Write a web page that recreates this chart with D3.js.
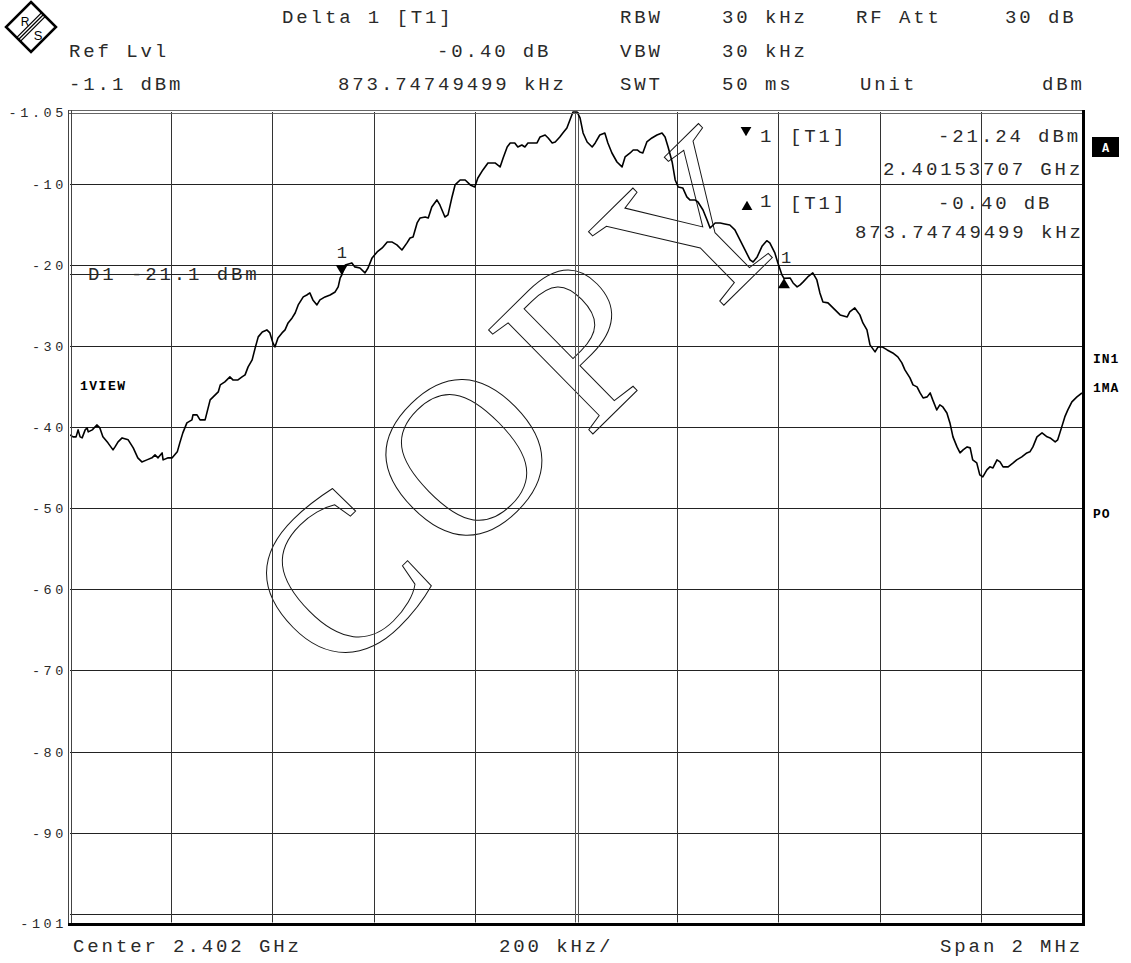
<!DOCTYPE html>
<html><head><meta charset="utf-8">
<script src="https://cdn.jsdelivr.net/npm/d3@7"></script>
<style>
html,body{margin:0;padding:0;background:#fff;}
svg{display:block;}
</style></head><body>
<svg id="chart" width="1131" height="963"></svg>
<script>
// ---- data (frequency offset from center 2.402 GHz in kHz, level in dBm) ----
const freqKHz = [-1000,-994,-988,-984,-980,-976,-970,-966,-964,-956,-947,-941,-935,-925,-915,-911,-905,-897,-885,-875,-866,-858,-848,-838,-832,-826,-818,-816,-806,-798,-788,-783,-777,-769,-759,-757,-749,-743,-733,-729,-723,-717,-707,-703,-694,-684,-678,-668,-660,-654,-648,-640,-634,-628,-620,-611,-605,-599,-595,-589,-581,-575,-569,-561,-555,-549,-539,-532,-526,-520,-512,-506,-496,-486,-476,-470,-466,-463,-456,-443,-437,-427,-417,-411,-403,-393,-383,-373,-364,-354,-344,-334,-328,-322,-314,-308,-298,-292,-285,-275,-269,-259,-253,-245,-239,-229,-219,-209,-200,-194,-184,-174,-160,-150,-144,-136,-130,-121,-115,-107,-101,-95,-85,-77,-71,-61,-55,-47,-41,-32,-26,-18,-12,-6,2,8,14,22,32,38,47,57,63,71,81,91,97,107,113,121,126,132,140,150,160,170,176,182,190,196,202,211,219,225,235,241,251,259,265,275,285,294,304,314,324,334,344,350,358,368,377,383,393,399,407,411,423,429,437,443,449,458,468,476,482,488,498,508,522,536,541,551,561,567,575,581,591,597,605,615,626,636,644,650,660,666,674,680,686,694,700,705,713,719,725,733,739,745,753,759,765,773,779,784,792,798,804,812,818,824,832,838,844,854,864,871,881,891,897,903,911,921,931,937,947,952,960,966,972,980,990,1000];
const levelDbm = [-40.95,-41.19,-41.19,-40.33,-41.19,-41.32,-40.33,-40.09,-40.58,-40.33,-39.72,-40.09,-41.19,-41.93,-42.80,-42.43,-41.81,-41.32,-41.56,-42.55,-43.78,-44.28,-44.03,-43.78,-43.41,-43.78,-43.17,-44.03,-43.78,-43.78,-43.04,-41.93,-40.70,-39.47,-39.10,-38.48,-38.48,-39.10,-39.10,-38.11,-36.63,-36.26,-35.65,-34.78,-34.41,-33.80,-34.17,-34.17,-33.80,-33.55,-32.56,-31.70,-30.22,-28.86,-28.25,-28.00,-28.37,-29.60,-30.10,-28.99,-28.37,-28.00,-27.14,-26.52,-25.91,-24.92,-23.93,-23.69,-23.44,-24.30,-24.92,-24.30,-23.93,-23.69,-23.32,-22.70,-21.59,-21.24,-19.99,-19.74,-20.23,-20.36,-20.97,-20.36,-19.12,-18.38,-17.89,-17.15,-17.15,-17.52,-18.14,-17.27,-16.66,-16.53,-14.81,-14.19,-14.07,-14.19,-12.84,-11.97,-12.59,-14.07,-13.82,-11.60,-10.12,-9.51,-9.51,-10.12,-10.37,-9.26,-8.27,-7.41,-7.41,-7.90,-6.79,-5.44,-4.94,-4.94,-5.44,-5.19,-5.44,-4.94,-4.94,-4.94,-4.20,-3.96,-4.33,-4.94,-4.82,-4.20,-3.71,-3.10,-2.11,-1.12,-1.12,-1.86,-3.71,-4.82,-5.44,-4.94,-3.96,-3.71,-4.94,-6.18,-7.29,-7.90,-6.67,-6.18,-5.81,-5.81,-6.05,-6.18,-4.82,-4.33,-3.96,-3.71,-4.20,-5.44,-7.29,-9.51,-10.37,-10.49,-11.60,-11.97,-11.97,-12.22,-13.21,-14.44,-15.43,-14.81,-14.81,-14.93,-15.06,-15.67,-16.90,-18.14,-19.37,-19.62,-19.00,-17.64,-17.00,-17.27,-18.51,-19.74,-21.22,-21.64,-21.59,-22.21,-22.70,-22.45,-22.08,-21.47,-20.97,-21.84,-23.44,-24.55,-24.67,-25.29,-26.15,-26.40,-25.78,-25.29,-26.15,-27.14,-28.00,-29.85,-30.71,-30.10,-30.10,-30.47,-30.84,-31.33,-32.07,-32.93,-33.92,-34.78,-35.03,-35.77,-36.39,-36.26,-35.77,-36.63,-37.87,-37.25,-37.50,-38.24,-39.47,-41.19,-42.43,-43.17,-42.80,-42.43,-42.55,-44.03,-44.40,-45.88,-46.13,-45.26,-44.89,-45.02,-44.03,-44.28,-44.89,-44.89,-44.40,-44.03,-43.66,-43.17,-43.04,-42.43,-41.19,-40.70,-41.19,-41.32,-41.81,-41.56,-39.96,-38.73,-37.87,-36.88,-36.26,-35.77];

const yGridValues = [-10,-20,-30,-40,-50,-60,-70,-80,-90,-100];
const yLabelValues = [-1.1,-10,-20,-30,-40,-50,-60,-70,-80,-90,-101.1];
const yLabelTexts = ["-1.05","-10","-20","-30","-40","-50","-60","-70","-80","-90","-101"];
const xGridValues = [-800,-600,-400,-200,200,400,600,800];
const xDomain = [-1000, 1000];
const yDomain = [-101.1, -1.1];

const marker1 = {f: -463, v: -21.24};
const deltaMarker = {f: 411, v: -21.64};
const displayLine = -21.1;

const headerRows = [
  [["Delta 1 [T1]",282],["RBW",620],["30 kHz",722],["RF Att",856],["30 dB",1005]],
  [["Ref Lvl",69],["-0.40 dB",437],["VBW",620],["30 kHz",722]],
  [["-1.1 dBm",69],["873.74749499 kHz",338],["SWT",620],["50 ms",722],["Unit",860],["dBm",1042]]
];
const markerTexts = [
  ["1",760,142],["[T1]",790,142],["-21.24 dBm",938,142],["2.40153707 GHz",883,175],
  ["1",760,207],["[T1]",790,209],["-0.40 dB",938,209],["873.74749499 kHz",855,238]
];

// ---- drawing ----
const svg = d3.select("#chart");
const L = 70, R = 1082, T = 111.8, B = 922.6;
const x = d3.scaleLinear().domain(xDomain).range([L, R]);
const y = d3.scaleLinear().domain(yDomain).range([B, T]);
const MONO = "'Liberation Mono', 'DejaVu Sans Mono', monospace";

svg.append("rect").attr("width",1131).attr("height",963).attr("fill","#fff");

function txt(g, s, tx, ty, o) {
  o = o || {};
  return g.append("text").attr("x", tx).attr("y", ty).text(s)
    .attr("font-family", o.family || MONO)
    .attr("font-size", o.size || 19)
    .attr("letter-spacing", o.ls != null ? o.ls : 2.9)
    .attr("font-weight", o.weight || "normal")
    .attr("fill", o.fill || "#2a2a2a")
    .attr("text-anchor", o.anchor || "start");
}

// logo
const logo = svg.append("g").attr("transform","translate(31,27)");
logo.append("path").attr("d","M0,-25 L25,0 L0,25 L-25,0 Z").attr("fill","#fff").attr("stroke","#000").attr("stroke-width",2.5);
[-2.6,0,2.6].forEach(o => {
  logo.append("line").attr("x1",-12.5+o*0.707).attr("y1",12.5+o*0.707).attr("x2",12.5+o*0.707).attr("y2",-12.5+o*0.707)
    .attr("stroke","#000").attr("stroke-width",1.3);
});
logo.append("text").attr("x",-6).attr("y",-1).text("R").attr("font-family","'Liberation Sans', Arial").attr("font-size",12).attr("text-anchor","middle");
logo.append("text").attr("x",7).attr("y",13).text("S").attr("font-family","'Liberation Sans', Arial").attr("font-size",13).attr("text-anchor","middle");

// header
headerRows.forEach((row, i) => {
  const by = [23, 57, 90][i];
  row.forEach(([s, hx]) => txt(svg, s, hx, by));
});

// clip
svg.append("clipPath").attr("id","plotclip").append("rect").attr("x",L).attr("y",T-1).attr("width",R-L).attr("height",B-T+1);
const plot = svg.append("g").attr("clip-path","url(#plotclip)");

// watermark
plot.append("text").attr("transform","translate(525,394) rotate(-44.5)")
  .attr("text-anchor","middle").attr("dominant-baseline","central")
  .attr("font-family","'Liberation Serif', 'DejaVu Serif', serif").attr("font-size",225)
  .attr("letter-spacing",19)
  .attr("fill","none").attr("stroke","#111").attr("stroke-width",1).text("COPY");

// grid
plot.selectAll("line.hg").data(yGridValues).enter().append("line")
  .attr("x1",L).attr("x2",R).attr("y1",d=>Math.round(y(d))+0.5).attr("y2",d=>Math.round(y(d))+0.5)
  .attr("stroke","#222").attr("stroke-width",1).attr("shape-rendering","crispEdges");
plot.selectAll("line.vg").data(xGridValues).enter().append("line")
  .attr("y1",T).attr("y2",B).attr("x1",d=>Math.round(x(d))+0.5).attr("x2",d=>Math.round(x(d))+0.5)
  .attr("stroke","#333").attr("stroke-width",1).attr("shape-rendering","crispEdges");
// centre double line
[-1.5, 1.5].forEach(o => plot.append("line").attr("y1",T).attr("y2",B)
  .attr("x1",Math.round(x(0))+o+0.5).attr("x2",Math.round(x(0))+o+0.5)
  .attr("stroke","#555").attr("stroke-width",1).attr("shape-rendering","crispEdges"));

// display line D1
plot.append("line").attr("x1",L).attr("x2",R).attr("y1",Math.round(y(displayLine))+0.5).attr("y2",Math.round(y(displayLine))+0.5)
  .attr("stroke","#222").attr("stroke-width",1).attr("shape-rendering","crispEdges");
txt(plot, "D1 -21.1 dBm", 88, Math.round(y(displayLine))+6);

// marker info text
markerTexts.forEach(([s, mx, my]) => txt(plot, s, mx, my));
plot.append("path").attr("d", d3.symbol(d3.symbolTriangle, 50)()).attr("transform","translate(746,130) rotate(180)").attr("fill","#000");
plot.append("path").attr("d", d3.symbol(d3.symbolTriangle, 50)()).attr("transform","translate(747,207)").attr("fill","#000");

// trace
const pts = freqKHz.map((f, i) => [f, levelDbm[i]]);
plot.append("path").datum(pts)
  .attr("d", d3.line().x(d => x(d[0])).y(d => y(d[1])))
  .attr("fill","none").attr("stroke","#000").attr("stroke-width",1.6).attr("stroke-linejoin","round");

// markers on trace
const m1x = x(marker1.f), m1y = y(marker1.v);
plot.append("path").attr("d",`M${m1x-6},${m1y-10} L${m1x+6},${m1y-10} L${m1x},${m1y} Z`).attr("fill","#000");
txt(plot, "1", m1x-5, m1y-17, {size:17, ls:0});
const dmx = x(deltaMarker.f), dmy = y(deltaMarker.v);
plot.append("path").attr("d",`M${dmx-6},${dmy+10} L${dmx+6},${dmy+10} L${dmx},${dmy} Z`).attr("fill","#000");
txt(plot, "1", dmx-3, dmy-15, {size:17, ls:0});

// 1VIEW label
txt(plot, "1VIEW", 80, 390, {size:13, ls:1.5, weight:"bold", fill:"#000"});

// borders
[110.5, 113.5].forEach(yy => svg.append("line").attr("x1",68).attr("x2",R).attr("y1",yy).attr("y2",yy)
  .attr("stroke","#666").attr("stroke-width",1).attr("shape-rendering","crispEdges"));
[68.5, 71.5].forEach(xx => svg.append("line").attr("x1",xx).attr("x2",xx).attr("y1",110).attr("y2",B+2)
  .attr("stroke","#444").attr("stroke-width",1).attr("shape-rendering","crispEdges"));
svg.append("line").attr("x1",R+1.5).attr("x2",R+1.5).attr("y1",110).attr("y2",B+3)
  .attr("stroke","#000").attr("stroke-width",3).attr("shape-rendering","crispEdges");
svg.append("line").attr("x1",68).attr("x2",R+3).attr("y1",B+1.5).attr("y2",B+1.5)
  .attr("stroke","#000").attr("stroke-width",3).attr("shape-rendering","crispEdges");

// y labels
yLabelValues.forEach((v, i) => {
  txt(svg, yLabelTexts[i], 67, y(v)+5, {size:13.5, ls:3.6, anchor:"end"});
});

// bottom labels
txt(svg, "Center 2.402 GHz", 73, 952);
txt(svg, "200 kHz/", 499, 952);
txt(svg, "Span 2 MHz", 940, 952);

// right side annotations
svg.append("rect").attr("x",1092).attr("y",137).attr("width",27).attr("height",20).attr("fill","#000");
txt(svg, "A", 1105.5, 152, {size:12, ls:0, weight:"bold", fill:"#fff", anchor:"middle"});
txt(svg, "IN1", 1093, 363, {size:13, ls:1, weight:"bold", fill:"#000"});
txt(svg, "1MA", 1093, 392, {size:13, ls:1, weight:"bold", fill:"#000"});
txt(svg, "PO", 1093, 518, {size:13, ls:1, weight:"bold", fill:"#000"});
</script>
</body></html>
